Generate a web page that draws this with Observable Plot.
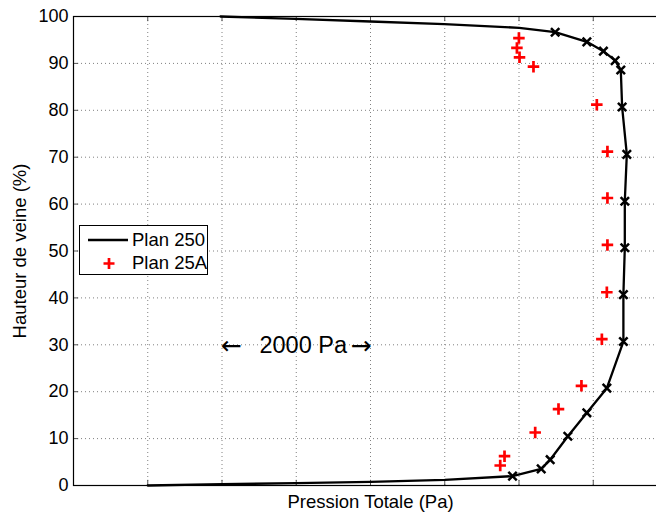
<!DOCTYPE html>
<html><head><meta charset="utf-8">
<script src="https://cdn.jsdelivr.net/npm/d3@7"></script>
<script src="https://cdn.jsdelivr.net/npm/@observablehq/plot@0.6"></script>
<style>
body{margin:0;background:#fff;}
#wrap{position:relative;width:656px;height:514px;overflow:hidden;font-family:"Liberation Sans",Arial,sans-serif;}
#legend{position:absolute;left:79px;top:225px;width:129px;height:50px;border:1px solid #000;background:#fff;box-sizing:border-box;}
#legend svg{position:absolute;left:0;top:0;}
</style></head><body><div id="wrap"></div>
<script>
// Y ticks (%), X grid (Pa, relative)
const yTicks = [0, 10, 20, 30, 40, 50, 60, 70, 80, 90, 100];
const xGrid = [1000, 2000, 3000, 4000, 5000, 6000, 7000];

// Plan 250: full profile (pressure Pa, height %)
const curveP = [1000, 2000, 3000, 4000, 5000, 5913, 6299, 6420, 6658, 6914, 7183, 7406, 7406, 7425, 7425, 7452, 7389, 7371, 7295, 7137, 6914, 6487, 6003, 4993, 4000, 2990, 1980];
const curveH = [0, 0.28, 0.49, 0.79, 1.22, 2.0, 3.55, 5.5, 10.5, 15.5, 20.75, 30.7, 40.7, 50.7, 60.6, 70.6, 80.7, 88.6, 90.6, 92.6, 94.6, 96.65, 97.59, 98.36, 98.93, 99.5, 100];

// Plan 250 measurement markers
const mark250P = [5913, 6299, 6420, 6658, 6914, 7183, 7406, 7406, 7425, 7425, 7452, 7389, 7371, 7295, 7137, 6914, 6487];
const mark250H = [2.0, 3.55, 5.5, 10.5, 15.5, 20.75, 30.7, 40.7, 50.7, 60.6, 70.6, 80.7, 88.6, 90.6, 92.6, 94.6, 96.65];

// Plan 25A
const plan25AP = [5747, 5805, 6218, 6532, 6841, 7116, 7183, 7191, 7191, 7191, 7048, 6195, 6007, 5972, 5999];
const plan25AH = [4.26, 6.25, 11.3, 16.3, 21.25, 31.2, 41.2, 51.3, 61.3, 71.2, 81.2, 89.3, 91.3, 93.3, 95.4];

// Scale annotation: 2000 Pa span
const spanFrom = 2000, spanTo = 4000, spanH = 30, spanLabel = "2000 Pa";

const curve = curveP.map((p, i) => ({p, h: curveH[i]}));
const m250 = mark250P.map((p, i) => ({p, h: mark250H[i]}));
const m25A = plan25AP.map((p, i) => ({p, h: plan25AH[i]}));

const font = '"Liberation Sans", Arial, sans-serif';
const gridStyle = {stroke: "#808080", strokeOpacity: 1, strokeWidth: 1, strokeDasharray: "1,3"};

const plot = Plot.plot({
  width: 656, height: 514,
  marginLeft: 73, marginRight: -11, marginTop: 16, marginBottom: 29,
  x: {type: "linear", domain: [0, 8000], axis: null},
  y: {type: "linear", domain: [0, 100], axis: null},
  style: {fontFamily: font, background: "white", color: "black"},
  marks: [
    Plot.ruleX(xGrid, {...gridStyle}),
    Plot.ruleY(yTicks.slice(1, -1), {...gridStyle}),
    // inward ticks (MATLAB style)
    Plot.ruleX(xGrid, {x: d => d, y1: 0, y2: 1.1, stroke: "#555"}),
    Plot.ruleX(xGrid, {x: d => d, y1: 98.9, y2: 100, stroke: "#555"}),
    Plot.ruleY(yTicks, {y: d => d, x1: 0, x2: 70, stroke: "#555"}),
    Plot.text(yTicks, {x: 0, y: d => d, text: d => String(d), textAnchor: "end", dx: -5, fontSize: 18, fill: "black"}),
    Plot.line(curve, {x: "p", y: "h", stroke: "black", strokeWidth: 2.3, strokeLinejoin: "round"}),
    Plot.dot(m250, {x: "p", y: "h", symbol: "times", r: 3.9, stroke: "black", strokeWidth: 2.5}),
    Plot.dot(m25A, {x: "p", y: "h", symbol: "plus", r: 3.8, stroke: "#ff0000", strokeWidth: 2.7}),
    Plot.text(["\u2190"], {x: spanFrom, y: spanH, text: d => d, textAnchor: "start", fontFamily: "DejaVu Sans", fontSize: 25, dx: -1, dy: 1, fill: "black"}),
    Plot.text(["\u2192"], {x: spanTo, y: spanH, text: d => d, textAnchor: "end", fontFamily: "DejaVu Sans", fontSize: 25, dx: 1, dy: 1, fill: "black"}),
    Plot.text([spanLabel], {x: (spanFrom + spanTo) / 2, y: spanH, text: d => d, fontSize: 23.5, dx: 7, dy: 1, fill: "black"}),
    Plot.text(["Pression Totale (Pa)"], {x: 4000, y: 0, dy: 17, text: d => d, fontSize: 18.5, fill: "black"}),
    Plot.text(["Hauteur de veine (%)"], {x: 0, y: 50, dx: -53, rotate: -90, text: d => d, fontSize: 18.5, fill: "black"}),
    Plot.frame({stroke: "black", strokeWidth: 1.2})
  ]
});
document.getElementById("wrap").appendChild(plot);

const legend = document.createElement("div");
legend.id = "legend";
legend.innerHTML = `<svg width="129" height="50">
  <line x1="8" x2="48" y1="14" y2="14" stroke="black" stroke-width="2.3"/>
  <path d="M23.5,37.5 h11 M29,32 v11" stroke="#ff0000" stroke-width="2.7"/>
  <text x="52" y="20" font-size="18.5" font-family='${font}'>Plan 250</text>
  <text x="52" y="43" font-size="18.5" font-family='${font}'>Plan 25A</text>
</svg>`;
document.getElementById("wrap").appendChild(legend);
</script>
</body></html>
